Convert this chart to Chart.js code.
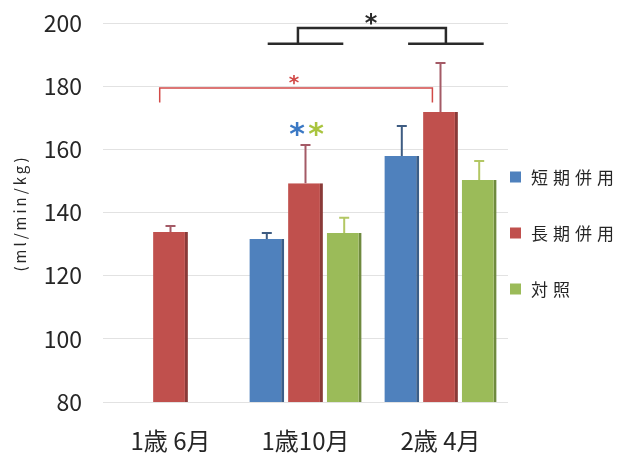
<!DOCTYPE html>
<html>
<head>
<meta charset="utf-8">
<script src="https://cdn.jsdelivr.net/npm/chart.js@4"></script>
<style>
  html, body { margin: 0; padding: 0; background: #fff; }
  #wrap { width: 622px; height: 457px; }
</style>
</head>
<body>
<div id="wrap"><canvas id="c" width="622" height="457"></canvas></div>
<script>
// 週齢ごとの値 (ml/min/kg)。エラーバーは上側のみ。
const categories = ["1歳 6月", "1歳10月", "2歳 4月"];
const seriesNames = ["短期併用", "長期併用", "対照"];
const shortTerm = [null, 131.6, 157.9];
const longTerm = [133.8, 149.3, 171.8];
const control = [null, 133.5, 150.3];
const shortErr = [null, 1.9, 9.5];
const longErr = [1.9, 12.1, 15.5];
const controlErr = [null, 4.8, 6];
const yTicks = { min: 80, max: 200, step: 20 };

const FONT = "'Noto Sans CJK JP', 'Noto Sans', sans-serif";
const TEXT = "#262626";
const COLORS = {
  blue: "#4f81bd", red: "#c0504d", green: "#9bbb59",
  blueEdge: "#3b5e88", redEdge: "#8a3a38", greenEdge: "#6f8a3e",
  blueErr: "#3e5c82", redErr: "#a45a66", greenErr: "#b3c764",
};

// 有意差の表示（位置はカテゴリ番号と値で指定）
const brackets = [
  { color: "#d24a48", width: 1.5, from: -0.08, to: 1.94, y: 179.4, drop: 174.8 },
  { color: "#2a2a2a", width: 2.5, from: 0.944, to: 2.04, y: 198.4, drop: 193.4 },
];
const baseLines = [
  { color: "#2a2a2a", width: 2.5, from: 0.72, to: 1.28, y: 193.4 },
  { color: "#2a2a2a", width: 2.5, from: 1.76, to: 2.32, y: 193.4 },
];
const stars = [
  { color: "#d24a48", size: 20, x: 0.915, y: 182 },
  { color: "#2a2a2a", size: 24, x: 1.485, y: 201.3 },
  { color: "#3a78c4", size: 30, x: 0.937, y: 166.3 },
  { color: "#a9c43e", size: 30, x: 1.078, y: 166.3 },
];

const errorBars = {
  id: "errorBars",
  afterDatasetsDraw(chart) {
    const { ctx } = chart;
    const y = chart.scales.y;
    chart.data.datasets.forEach((ds, i) => {
      const meta = chart.getDatasetMeta(i);
      meta.data.forEach((bar, j) => {
        const v = ds.data[j], e = ds.errors[j];
        if (v == null || e == null) return;
        const top = y.getPixelForValue(v + e);
        ctx.save();
        ctx.strokeStyle = ds.errColor;
        ctx.lineWidth = 2;
        ctx.beginPath();
        ctx.moveTo(bar.x, bar.y);
        ctx.lineTo(bar.x, top);
        ctx.moveTo(bar.x - 5, top);
        ctx.lineTo(bar.x + 5, top);
        ctx.stroke();
        ctx.restore();
      });
    });
  },
};

const extras = {
  id: "extras",
  afterDraw(chart) {
    const { ctx } = chart;
    const x = chart.scales.x, y = chart.scales.y;
    ctx.save();
    // 角かっこ
    for (const b of brackets) {
      ctx.strokeStyle = b.color;
      ctx.lineWidth = b.width;
      ctx.beginPath();
      ctx.moveTo(x.getPixelForValue(b.from), y.getPixelForValue(b.drop));
      ctx.lineTo(x.getPixelForValue(b.from), y.getPixelForValue(b.y));
      ctx.lineTo(x.getPixelForValue(b.to), y.getPixelForValue(b.y));
      ctx.lineTo(x.getPixelForValue(b.to), y.getPixelForValue(b.drop));
      ctx.stroke();
    }
    for (const l of baseLines) {
      ctx.strokeStyle = l.color;
      ctx.lineWidth = l.width;
      ctx.beginPath();
      ctx.moveTo(x.getPixelForValue(l.from), y.getPixelForValue(l.y));
      ctx.lineTo(x.getPixelForValue(l.to), y.getPixelForValue(l.y));
      ctx.stroke();
    }
    // アスタリスク（字形の中心を合わせる）
    for (const s of stars) {
      ctx.font = `bold ${s.size}px 'DejaVu Sans', sans-serif`;
      ctx.fillStyle = s.color;
      ctx.textAlign = "center";
      ctx.textBaseline = "alphabetic";
      const m = ctx.measureText("*");
      const mid = (m.actualBoundingBoxAscent - m.actualBoundingBoxDescent) / 2;
      ctx.fillText("*", x.getPixelForValue(s.x), y.getPixelForValue(s.y) + mid);
    }
    // 縦軸タイトル
    ctx.fillStyle = TEXT;
    ctx.font = `15px ${FONT}`;
    ctx.letterSpacing = "3px";
    ctx.translate(20, 213);
    ctx.rotate(-Math.PI / 2);
    ctx.textAlign = "center";
    ctx.textBaseline = "middle";
    ctx.fillText("(ml/min/kg)", 0, 0);
    ctx.setTransform(1, 0, 0, 1, 0, 0);
    // 凡例
    ctx.font = `17px ${FONT}`;
    ctx.letterSpacing = "5px";
    ctx.textAlign = "left";
    chart.data.datasets.forEach((ds, i) => {
      const cy = 177 + i * 56;
      ctx.fillStyle = ds.backgroundColor;
      ctx.fillRect(510, cy - 5.5, 11, 11);
      ctx.fillStyle = TEXT;
      ctx.fillText(ds.label, 531, cy + 1);
    });
    ctx.restore();
  },
};

function series(label, data, errors, fill, edge, errColor) {
  return {
    label, data, errors, errColor,
    backgroundColor: fill,
    borderColor: edge,
    borderWidth: { top: 0, left: 0, bottom: 0, right: 3 },
    borderSkipped: false,
    barPercentage: 0.9,
    categoryPercentage: 0.86,
  };
}

new Chart(document.getElementById("c"), {
  type: "bar",
  data: {
    labels: categories,
    datasets: [
      series(seriesNames[0], shortTerm, shortErr, COLORS.blue, COLORS.blueEdge, COLORS.blueErr),
      series(seriesNames[1], longTerm, longErr, COLORS.red, COLORS.redEdge, COLORS.redErr),
      series(seriesNames[2], control, controlErr, COLORS.green, COLORS.greenEdge, COLORS.greenErr),
    ],
  },
  options: {
    responsive: false,
    animation: false,
    layout: { padding: { top: 23, right: 114, left: 0, bottom: 0 } },
    plugins: { legend: { display: false }, tooltip: { enabled: false } },
    scales: {
      x: {
        grid: { display: false, drawTicks: false },
        border: { display: false },
        ticks: { color: TEXT, font: { family: FONT, size: 24 }, padding: 24, maxRotation: 0 },
        afterFit: (s) => { s.height = 55; s.paddingLeft = 0; s.paddingRight = 0; },
      },
      y: {
        min: yTicks.min,
        max: yTicks.max,
        grid: { color: "#e2e2e2", lineWidth: 1, drawTicks: false },
        border: { display: false },
        ticks: { stepSize: yTicks.step, color: TEXT, font: { family: FONT, size: 23 }, padding: 21 },
        afterFit: (s) => { s.width = 103; s.paddingTop = 0; s.paddingBottom = 0; },
      },
    },
  },
  plugins: [errorBars, extras],
});
</script>
</body>
</html>
